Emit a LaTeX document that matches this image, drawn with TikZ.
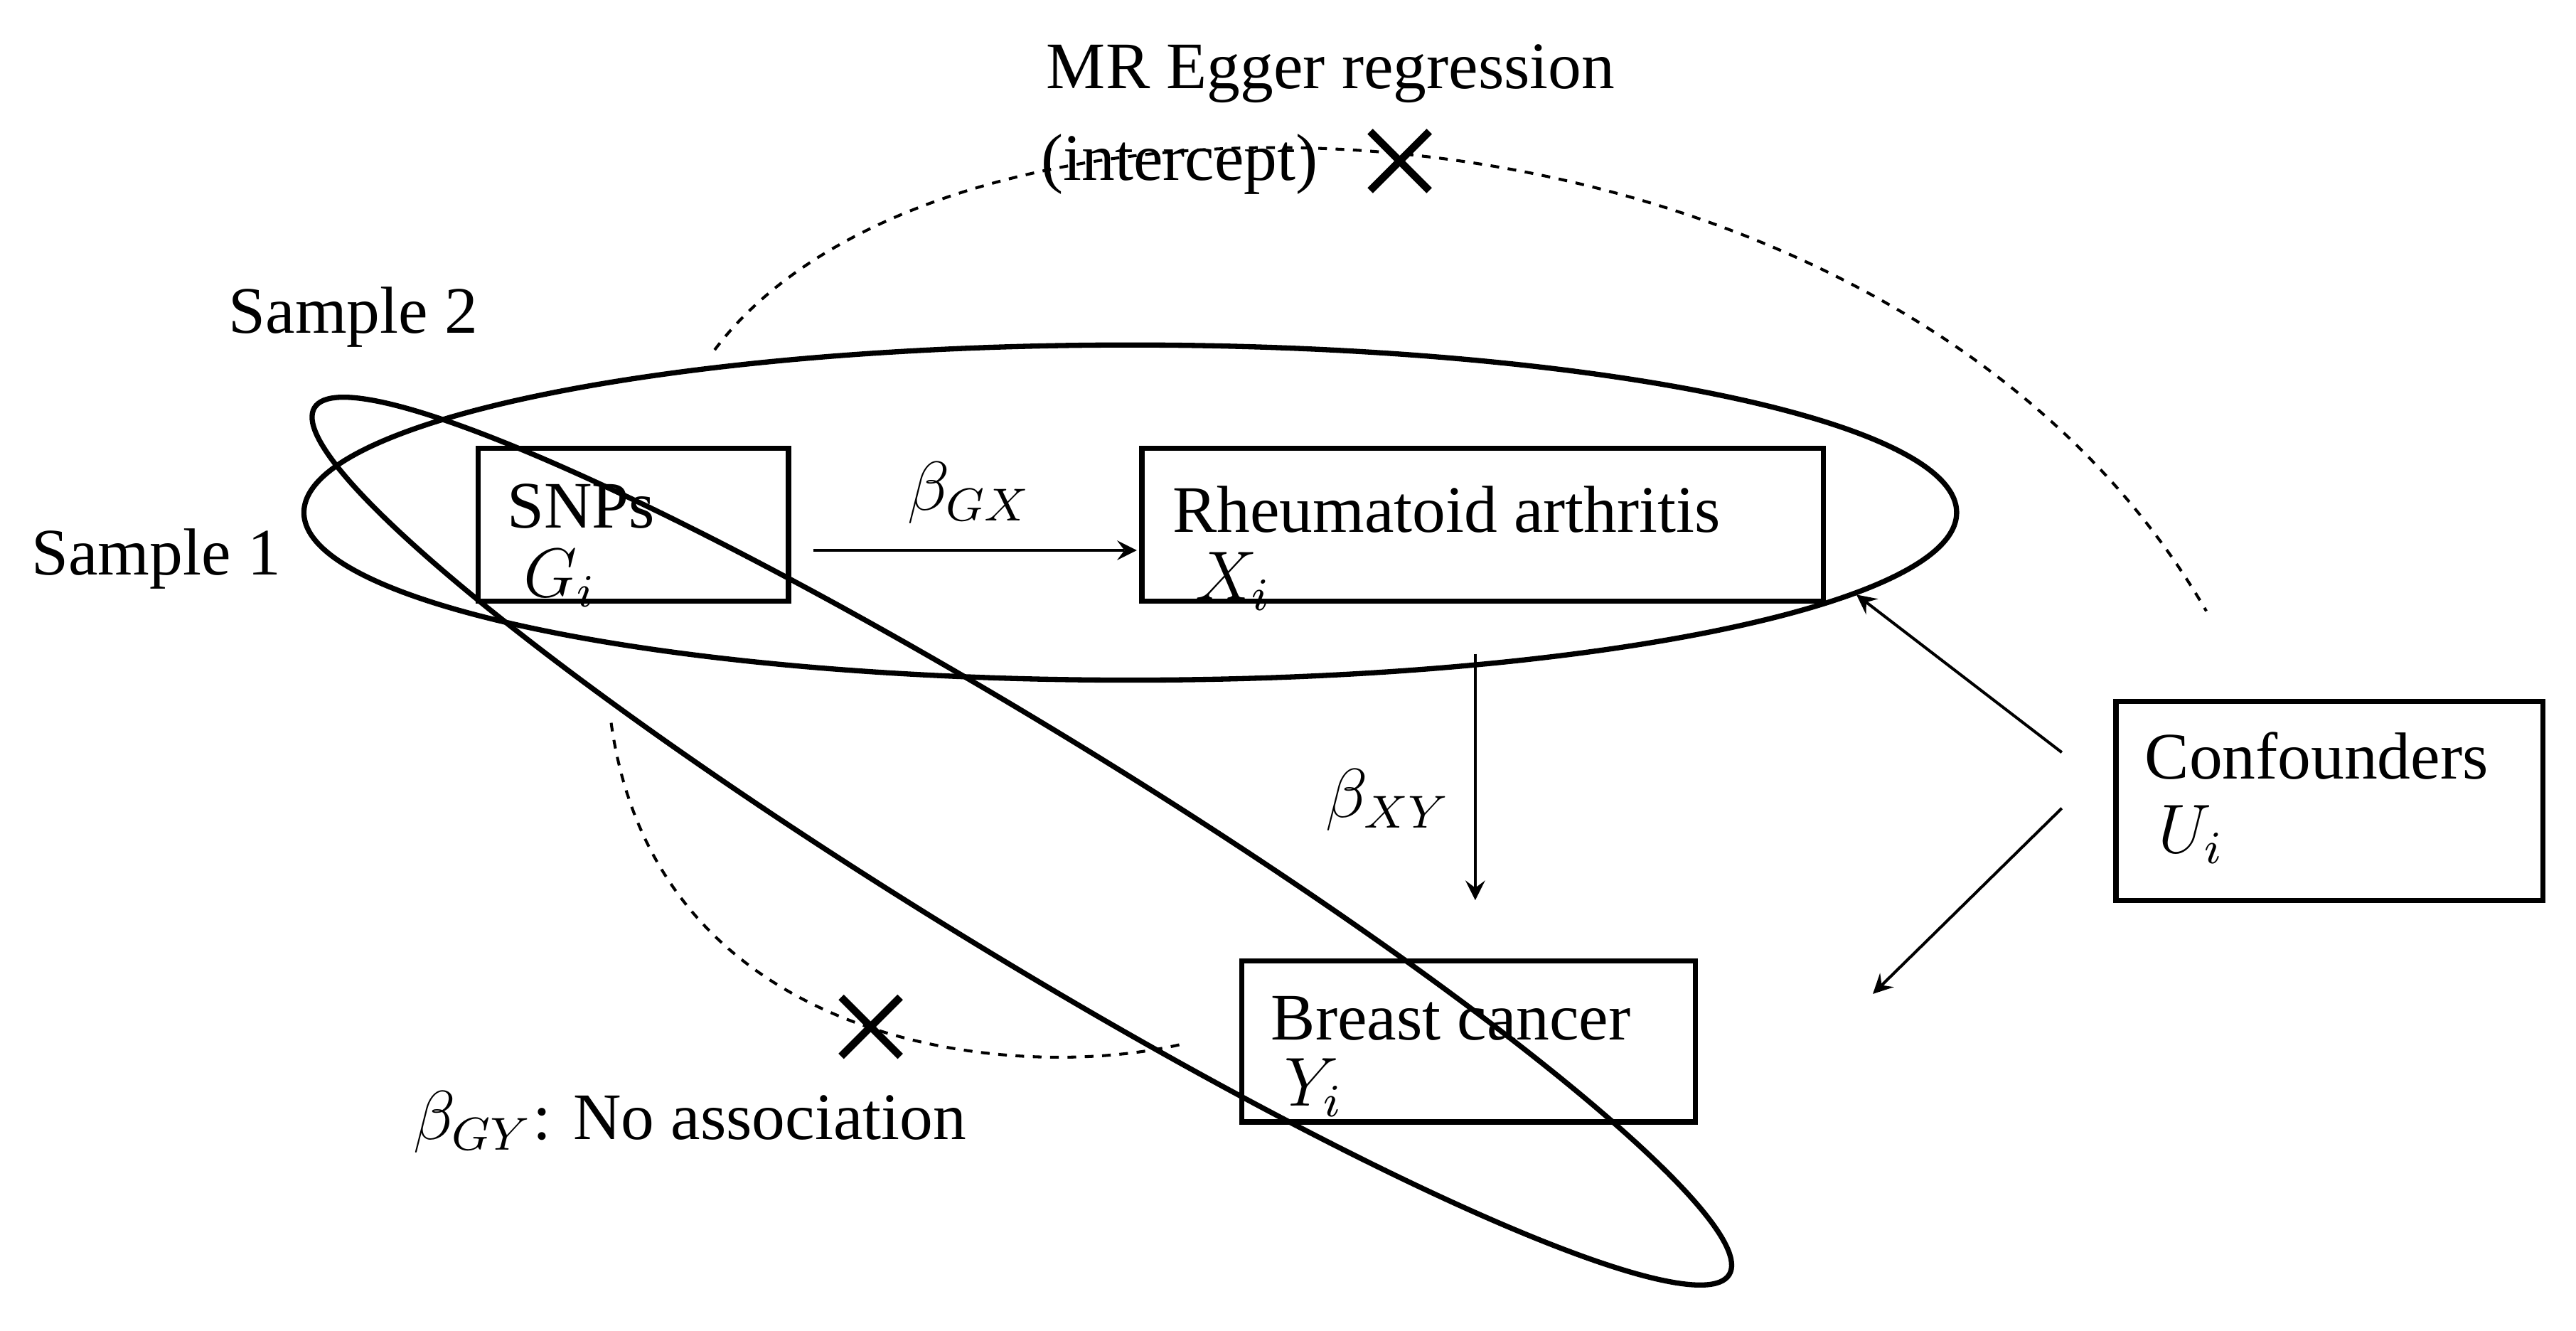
\documentclass[tikz,border=0pt]{standalone}
\usepackage{fontspec}
\setmainfont{Liberation Serif}
\begin{document}
\begin{tikzpicture}[x=0.01cm,y=-0.01cm,
  box/.style={draw,line width=0.9pt},
  lbl/.style={font=\fontsize{11.5}{13}\selectfont,inner sep=0pt},
  arr/.style={->,>=stealth,line width=0.5pt},
  dot/.style={dash pattern=on 1.5pt off 1.5pt,line width=0.5pt}]
\useasboundingbox (0,0) rectangle (1568,810);
\draw[box] (291,273) rectangle (480,366);
\draw[box] (695,273) rectangle (1110,366);
\draw[box] (756,585) rectangle (1032,683);
\draw[box] (1288,427) rectangle (1548,548);
\node[lbl,anchor=west] (snp) at (308,308) {SNPs};
\node[lbl,anchor=west] at (318,352) {$G_i$};
\node[lbl,anchor=west] (ra) at (713,310) {Rheumatoid arthritis};
\node[lbl,anchor=west] at (727,354) {$X_i$};
\node[lbl,anchor=west] (bc) at (773,620) {Breast cancer};
\node[lbl,anchor=west] at (781,662) {$Y_i$};
\node[lbl,anchor=west] (cf) at (1305,460) {Confounders};
\node[lbl,anchor=west] at (1313,508) {$U_i$};
\draw[line width=0.9pt] (688,312) ellipse [x radius=503,y radius=102];
\draw[line width=0.9pt,rotate around={-31.5:(622,512)}] (622,512) ellipse [x radius=505,y radius=68];
\coordinate (a1) at (495,335); \coordinate (a2) at (692,335);
\draw[arr] (a1) -- (a2);
\node[lbl] at (590,300) {$\beta_{GX}$};
\coordinate (b1) at (898,398); \coordinate (b2) at (898,548);
\draw[arr] (b1) -- (b2);
\node[lbl] at (845,487) {$\beta_{XY}$};
\coordinate (c1) at (1255,458); \coordinate (c2) at (1130,362);
\coordinate (c3) at (1255,492); \coordinate (c4) at (1140,605);
\draw[arr] (c1) -- (c2); \draw[arr] (c3) -- (c4);
\draw[dot] (435,213) .. controls (580,20) and (1150,40) .. (1343,372);
\draw[dot] (372,440) .. controls (400,640) and (620,660) .. (722,635);
\draw[line width=1.3pt] (834,80) -- (870,116) (870,80) -- (834,116);
\draw[line width=1.3pt] (512,607) -- (548,643) (548,607) -- (512,643);
\node[lbl] at (810,45) {MR Egger regression};
\node[lbl] at (718,100) {(intercept)};
\node[lbl] at (215,193) {Sample 2};
\node[lbl] at (95,340) {Sample 1};
\node[lbl] at (420,683) {$\beta_{GY}$: No association};
\end{tikzpicture}
\end{document}
